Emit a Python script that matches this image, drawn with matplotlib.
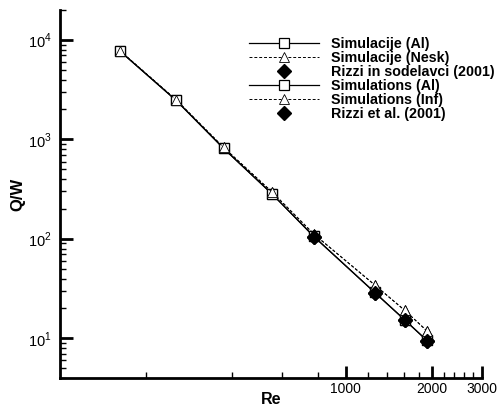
import numpy as np
import matplotlib
matplotlib.use("Agg")
import matplotlib.pyplot as plt
from matplotlib.ticker import FixedLocator, NullFormatter, FixedFormatter

plt.rcParams['font.family'] = ['Liberation Sans', 'DejaVu Sans']
plt.rcParams['mathtext.fontset'] = 'custom'
plt.rcParams['mathtext.rm'] = 'Liberation Sans'

# Data
re_sim = [162, 255, 374, 551, 773, 1263, 1607, 1919]
qw_al = [7740, 2466, 811, 285, 106, 29.0, 15.4, 9.6]
qw_nesk = [7800, 2500, 830, 298, 112, 34.5, 19.2, 12.0]
re_rizzi = [773, 1263, 1607, 1919]
qw_rizzi = [105, 28.6, 15.2, 9.5]

labels_si = ["Simulacije (Al)", "Simulacije (Nesk)", "Rizzi in sodelavci (2001)"]
labels_en = ["Simulations (Al)", "Simulations (Inf)", "Rizzi et al. (2001)"]

x_major = [1000, 2000, 3000]
x_minor = [200, 400, 600, 800, 1200, 1400, 1600, 1800, 2200, 2400, 2600, 2800]
y_major = [10, 100, 1000, 10000]

fig = plt.figure(figsize=(5.02, 4.08), dpi=100)
ax = fig.add_axes([60 / 502, 30 / 408, 422 / 502, 368 / 408])

for labs in (labels_si, labels_en):
    ax.plot(re_sim, qw_al, '-', color='black', lw=0.9, marker='s', ms=7.5,
            mfc='white', mec='black', mew=0.9, label=labs[0])
    ax.plot(re_sim, qw_nesk, '--', color='black', lw=0.7, dashes=(3, 2), marker='^', ms=7.5,
            mfc='white', mec='black', mew=0.6, label=labs[1])
    ax.plot(re_rizzi, qw_rizzi, 'D', color='black', ms=7.5, ls='none', label=labs[2])

ax.set_xscale('log')
ax.set_yscale('log')
ax.set_xlim(100, 3000)
ax.set_ylim(4, 20000)

ax.xaxis.set_major_locator(FixedLocator(x_major))
ax.xaxis.set_major_formatter(FixedFormatter([str(v) for v in x_major]))
ax.xaxis.set_minor_locator(FixedLocator(x_minor))
ax.xaxis.set_minor_formatter(NullFormatter())

y_minor = [m * 10 ** e for e in range(0, 5) for m in range(2, 10)]
ax.yaxis.set_major_locator(FixedLocator(y_major))
ax.yaxis.set_major_formatter(FixedFormatter([r'$10^{%d}$' % int(np.log10(v)) for v in y_major]))
ax.yaxis.set_minor_locator(FixedLocator(y_minor))
ax.yaxis.set_minor_formatter(NullFormatter())

for s in ['top', 'right']:
    ax.spines[s].set_visible(False)
for s in ['left', 'bottom']:
    ax.spines[s].set_linewidth(2)

ax.tick_params(which='major', direction='in', length=9, width=2, labelsize=10.5, pad=6)
ax.tick_params(which='minor', direction='in', length=4, width=1)
ax.tick_params(axis='x', which='major', labelsize=10, pad=3)

ax.set_xlabel("Re", fontweight='bold', fontsize=11.5, labelpad=-3)
ax.set_ylabel("Q/W", fontweight='bold', fontsize=12, labelpad=2)

ax.legend(loc='upper left', bbox_to_anchor=(249 / 502, 1 - 37 / 408), bbox_transform=fig.transFigure,
          frameon=False, numpoints=1, handlelength=4.9, handletextpad=0.85, borderpad=0,
          borderaxespad=0, labelspacing=0.0, prop={'weight': 'bold', 'size': 10.3})

fig.savefig("out.png", dpi=100)
